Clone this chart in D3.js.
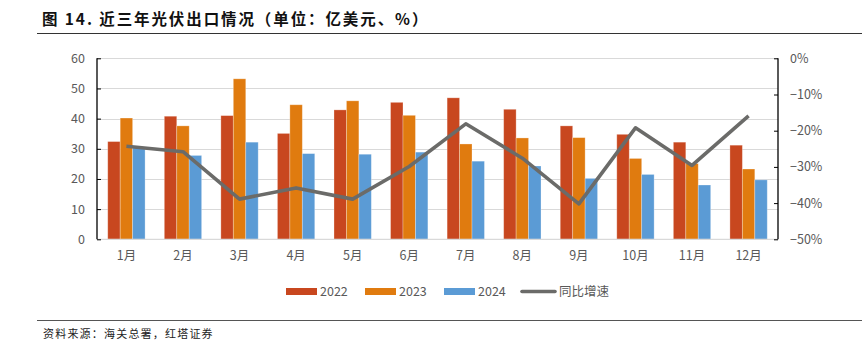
<!DOCTYPE html>
<html>
<head>
<meta charset="utf-8">
<script src="https://cdn.jsdelivr.net/npm/d3@7/dist/d3.min.js"></script>
<style>
  html, body { margin: 0; padding: 0; background: #fff; }
  svg { display: block; }
</style>
</head>
<body>
<svg id="chart" width="862" height="348"></svg>
<script>
// 近三年光伏出口（亿美元）与同比增速
const months = ["1月","2月","3月","4月","5月","6月","7月","8月","9月","10月","11月","12月"];
const years = ["2022","2023","2024"];
const exports2022 = [32.4, 40.8, 41.0, 35.1, 42.9, 45.4, 46.9, 43.1, 37.6, 34.8, 32.2, 31.2];
const exports2023 = [40.2, 37.6, 53.2, 44.6, 45.9, 41.1, 31.6, 33.6, 33.7, 26.8, 25.1, 23.3];
const exports2024 = [30.3, 27.8, 32.2, 28.4, 28.2, 28.9, 25.9, 24.3, 20.2, 21.5, 18.0, 19.7];
const yoyGrowth   = [-24.3, -25.8, -38.9, -35.8, -38.9, -29.9, -18.1, -27.6, -40.2, -19.2, -29.6, -15.9];
const leftTicks  = [0, 10, 20, 30, 40, 50, 60];
const rightTicks = [0, -10, -20, -30, -40, -50];
const seriesColors = ["#C8471F", "#E07B0F", "#5B9BD5"];
const lineColor = "#6B6B69";

const svg = d3.select("#chart");
const tickFont = "'Noto Sans CJK SC', 'Noto Sans', sans-serif";
const tickColor = "#595959";

const plotLeft = 97, plotRight = 778, plotTop = 58.3, plotBottom = 239.3;

const x = d3.scaleBand().domain(months).range([plotLeft, plotRight]).paddingInner(0.34).paddingOuter(0.19);
const xs = d3.scaleBand().domain(years).range([0, x.bandwidth()]);
const y = d3.scaleLinear().domain([0, 60]).range([plotBottom, plotTop]);
const y2 = d3.scaleLinear().domain([-50, 0]).range([plotBottom, plotTop]);

// title
svg.append("text")
  .attr("x", 42).attr("y", 25)
  .attr("font-family", tickFont).attr("font-size", 15.5).attr("font-weight", 700)
  .attr("letter-spacing", 1.9)
  .attr("fill", "#111")
  .text("图 14. 近三年光伏出口情况（单位：亿美元、%）");
svg.append("line").attr("x1", 37).attr("x2", 862).attr("y1", 33.5).attr("y2", 33.5)
  .attr("stroke", "#333").attr("stroke-width", 1.2);

// gridlines
svg.append("g").selectAll("line").data(leftTicks.filter(d => d > 0)).join("line")
  .attr("x1", plotLeft).attr("x2", plotRight)
  .attr("y1", d => Math.round(y(d)) + 0.5).attr("y2", d => Math.round(y(d)) + 0.5)
  .attr("stroke", "#D9D9D9").attr("stroke-width", 1);

// bars
const allSeries = [exports2022, exports2023, exports2024];
const barData = [];
months.forEach((m, i) => years.forEach((yr, j) => barData.push({ m, yr, v: allSeries[j][i], c: seriesColors[j] })));
svg.append("g").selectAll("rect").data(barData).join("rect")
  .attr("x", d => x(d.m) + xs(d.yr))
  .attr("width", xs.bandwidth())
  .attr("y", d => y(d.v))
  .attr("height", d => y(0) - y(d.v))
  .attr("fill", d => d.c)
  .attr("stroke", "rgba(255,255,255,0.35)").attr("stroke-width", 0.8);

// baseline
svg.append("line").attr("x1", plotLeft).attr("x2", plotRight).attr("y1", plotBottom).attr("y2", plotBottom)
  .attr("stroke", "#D9D9D9").attr("stroke-width", 1.2);

// left axis
const leftAxis = svg.append("g").attr("transform", `translate(${plotLeft},0)`)
  .call(d3.axisLeft(y).tickValues(leftTicks).tickSize(-4).tickPadding(12).tickFormat(d3.format("d")));
leftAxis.select(".domain").attr("stroke", "#000").attr("stroke-width", 1.3).attr("d", `M0,${plotTop}V${plotBottom}`);
leftAxis.selectAll(".tick line").attr("stroke", "#000");
leftAxis.selectAll("text").attr("font-family", tickFont).attr("font-size", 12.5).attr("fill", tickColor);

// right axis
const rightAxis = svg.append("g").attr("transform", `translate(${plotRight},0)`)
  .call(d3.axisRight(y2).tickValues(rightTicks).tickSize(-4).tickPadding(12).tickFormat(d => (d === 0 ? "0" : "−" + Math.abs(d)) + "%"));
rightAxis.select(".domain").attr("stroke", "#000").attr("stroke-width", 1.3).attr("d", `M0,${plotTop}V${plotBottom}`);
rightAxis.selectAll(".tick line").attr("stroke", "#000");
rightAxis.selectAll("text").attr("font-family", tickFont).attr("font-size", 12.5).attr("fill", tickColor);

// x axis labels
const xAxis = svg.append("g").attr("transform", `translate(0,${plotBottom})`)
  .call(d3.axisBottom(x).tickSize(0).tickPadding(12));
xAxis.select(".domain").remove();
xAxis.selectAll("text").attr("font-family", tickFont).attr("font-size", 12.5).attr("fill", tickColor);

// yoy line
const line = d3.line().x((d, i) => x(months[i]) + x.bandwidth() / 2).y(d => y2(d));
svg.append("path").datum(yoyGrowth)
  .attr("d", line).attr("fill", "none")
  .attr("stroke", lineColor).attr("stroke-width", 3.6).attr("stroke-linejoin", "round");

// legend
const legend = svg.append("g").attr("font-family", tickFont).attr("font-size", 12.5).attr("fill", tickColor);
const legendItems = [
  { label: "2022", color: seriesColors[0], x: 286, type: "rect" },
  { label: "2023", color: seriesColors[1], x: 365, type: "rect" },
  { label: "2024", color: seriesColors[2], x: 444, type: "rect" },
  { label: "同比增速", color: lineColor, x: 522, type: "line" }
];
legendItems.forEach(it => {
  if (it.type === "rect") {
    legend.append("rect").attr("x", it.x).attr("y", 288).attr("width", 31).attr("height", 7).attr("fill", it.color);
  } else {
    legend.append("line").attr("x1", it.x).attr("x2", it.x + 33).attr("y1", 291.5).attr("y2", 291.5)
      .attr("stroke", it.color).attr("stroke-width", 3.6).attr("stroke-linecap", "round");
  }
  legend.append("text").attr("x", it.x + (it.type === "rect" ? 34 : 37)).attr("y", 296).attr("fill", tickColor).text(it.label);
});

// source
svg.append("line").attr("x1", 37).attr("x2", 862).attr("y1", 320.5).attr("y2", 320.5)
  .attr("stroke", "#555").attr("stroke-width", 1.2);
svg.append("text").attr("x", 43).attr("y", 338)
  .attr("font-family", tickFont).attr("font-size", 11).attr("letter-spacing", 1.2).attr("fill", "#222")
  .text("资料来源：海关总署，红塔证券");
</script>
</body>
</html>
